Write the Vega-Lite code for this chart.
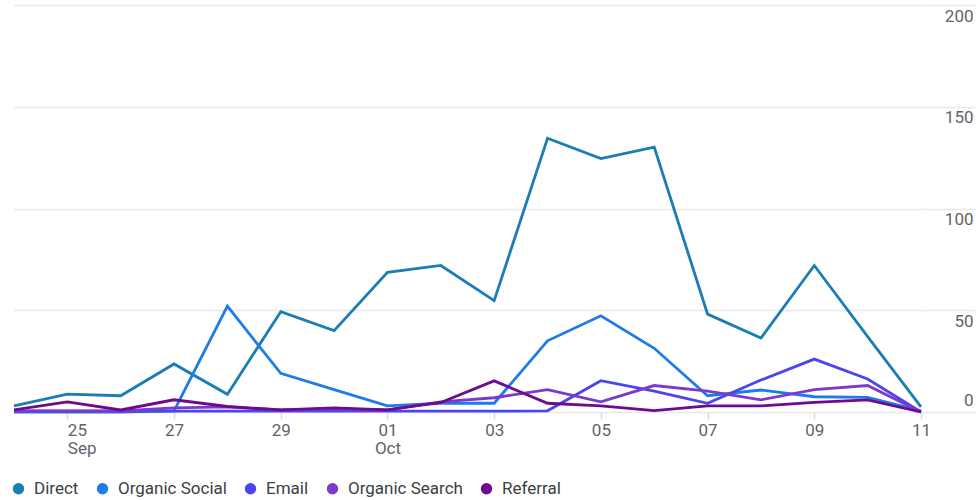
{
  "$schema": "https://vega.github.io/schema/vega-lite/v6.json",
  "width": 907,
  "height": 407,
  "autosize": {"type": "none"},
  "padding": {"left": 14, "top": 5, "right": 55, "bottom": 88},
  "config": {
    "view": {"stroke": null},
    "font": "Roboto",
    "axis": {"labelFont": "Roboto", "labelFontSize": 17, "labelColor": "#5f6368"},
    "legend": {"labelFont": "Roboto", "labelFontSize": 17, "labelColor": "#3c4043"}
  },
  "datasets": {
    "traffic": [
      {"date": "2023-09-24", "channel": "Direct", "users": 3},
      {"date": "2023-09-25", "channel": "Direct", "users": 8.8},
      {"date": "2023-09-26", "channel": "Direct", "users": 8},
      {"date": "2023-09-27", "channel": "Direct", "users": 23.6},
      {"date": "2023-09-28", "channel": "Direct", "users": 8.7},
      {"date": "2023-09-29", "channel": "Direct", "users": 49.3},
      {"date": "2023-09-30", "channel": "Direct", "users": 40},
      {"date": "2023-10-01", "channel": "Direct", "users": 68.6},
      {"date": "2023-10-02", "channel": "Direct", "users": 72},
      {"date": "2023-10-03", "channel": "Direct", "users": 54.7},
      {"date": "2023-10-04", "channel": "Direct", "users": 134.5},
      {"date": "2023-10-05", "channel": "Direct", "users": 124.5},
      {"date": "2023-10-06", "channel": "Direct", "users": 130.2},
      {"date": "2023-10-07", "channel": "Direct", "users": 48.1},
      {"date": "2023-10-08", "channel": "Direct", "users": 36.3},
      {"date": "2023-10-09", "channel": "Direct", "users": 72},
      {"date": "2023-10-10", "channel": "Direct", "users": 37},
      {"date": "2023-10-11", "channel": "Direct", "users": 2.5},

      {"date": "2023-09-24", "channel": "Organic Social", "users": 0},
      {"date": "2023-09-25", "channel": "Organic Social", "users": 0},
      {"date": "2023-09-26", "channel": "Organic Social", "users": 0},
      {"date": "2023-09-27", "channel": "Organic Social", "users": 0.5},
      {"date": "2023-09-28", "channel": "Organic Social", "users": 52},
      {"date": "2023-09-29", "channel": "Organic Social", "users": 19},
      {"date": "2023-09-30", "channel": "Organic Social", "users": 11},
      {"date": "2023-10-01", "channel": "Organic Social", "users": 3},
      {"date": "2023-10-02", "channel": "Organic Social", "users": 4.3},
      {"date": "2023-10-03", "channel": "Organic Social", "users": 4.3},
      {"date": "2023-10-04", "channel": "Organic Social", "users": 35},
      {"date": "2023-10-05", "channel": "Organic Social", "users": 47.3},
      {"date": "2023-10-06", "channel": "Organic Social", "users": 31.3},
      {"date": "2023-10-07", "channel": "Organic Social", "users": 8},
      {"date": "2023-10-08", "channel": "Organic Social", "users": 10.8},
      {"date": "2023-10-09", "channel": "Organic Social", "users": 7.5},
      {"date": "2023-10-10", "channel": "Organic Social", "users": 7.2},
      {"date": "2023-10-11", "channel": "Organic Social", "users": 0.6},

      {"date": "2023-09-24", "channel": "Email", "users": 0.4},
      {"date": "2023-09-25", "channel": "Email", "users": 0.4},
      {"date": "2023-09-26", "channel": "Email", "users": 0.4},
      {"date": "2023-09-27", "channel": "Email", "users": 0.4},
      {"date": "2023-09-28", "channel": "Email", "users": 0.4},
      {"date": "2023-09-29", "channel": "Email", "users": 0.4},
      {"date": "2023-09-30", "channel": "Email", "users": 0.4},
      {"date": "2023-10-01", "channel": "Email", "users": 0.4},
      {"date": "2023-10-02", "channel": "Email", "users": 0.4},
      {"date": "2023-10-03", "channel": "Email", "users": 0.4},
      {"date": "2023-10-04", "channel": "Email", "users": 0.6},
      {"date": "2023-10-05", "channel": "Email", "users": 15.4},
      {"date": "2023-10-06", "channel": "Email", "users": 10.3},
      {"date": "2023-10-07", "channel": "Email", "users": 4.3},
      {"date": "2023-10-08", "channel": "Email", "users": 15.7},
      {"date": "2023-10-09", "channel": "Email", "users": 26},
      {"date": "2023-10-10", "channel": "Email", "users": 16.2},
      {"date": "2023-10-11", "channel": "Email", "users": 0},

      {"date": "2023-09-24", "channel": "Organic Search", "users": 0.5},
      {"date": "2023-09-25", "channel": "Organic Search", "users": 0.5},
      {"date": "2023-09-26", "channel": "Organic Search", "users": 0.5},
      {"date": "2023-09-27", "channel": "Organic Search", "users": 2},
      {"date": "2023-09-28", "channel": "Organic Search", "users": 2.5},
      {"date": "2023-09-29", "channel": "Organic Search", "users": 1},
      {"date": "2023-09-30", "channel": "Organic Search", "users": 1.5},
      {"date": "2023-10-01", "channel": "Organic Search", "users": 1},
      {"date": "2023-10-02", "channel": "Organic Search", "users": 5},
      {"date": "2023-10-03", "channel": "Organic Search", "users": 7},
      {"date": "2023-10-04", "channel": "Organic Search", "users": 11},
      {"date": "2023-10-05", "channel": "Organic Search", "users": 5},
      {"date": "2023-10-06", "channel": "Organic Search", "users": 13},
      {"date": "2023-10-07", "channel": "Organic Search", "users": 10.3},
      {"date": "2023-10-08", "channel": "Organic Search", "users": 6},
      {"date": "2023-10-09", "channel": "Organic Search", "users": 11},
      {"date": "2023-10-10", "channel": "Organic Search", "users": 13},
      {"date": "2023-10-11", "channel": "Organic Search", "users": 0},

      {"date": "2023-09-24", "channel": "Referral", "users": 1},
      {"date": "2023-09-25", "channel": "Referral", "users": 5},
      {"date": "2023-09-26", "channel": "Referral", "users": 1},
      {"date": "2023-09-27", "channel": "Referral", "users": 6},
      {"date": "2023-09-28", "channel": "Referral", "users": 2.7},
      {"date": "2023-09-29", "channel": "Referral", "users": 1},
      {"date": "2023-09-30", "channel": "Referral", "users": 2},
      {"date": "2023-10-01", "channel": "Referral", "users": 1},
      {"date": "2023-10-02", "channel": "Referral", "users": 4.7},
      {"date": "2023-10-03", "channel": "Referral", "users": 15.3},
      {"date": "2023-10-04", "channel": "Referral", "users": 4.3},
      {"date": "2023-10-05", "channel": "Referral", "users": 3},
      {"date": "2023-10-06", "channel": "Referral", "users": 0.7},
      {"date": "2023-10-07", "channel": "Referral", "users": 3},
      {"date": "2023-10-08", "channel": "Referral", "users": 3},
      {"date": "2023-10-09", "channel": "Referral", "users": 4.7},
      {"date": "2023-10-10", "channel": "Referral", "users": 6},
      {"date": "2023-10-11", "channel": "Referral", "users": 0}
    ]
  },
  "data": {"name": "traffic"},
  "mark": {"type": "line", "strokeWidth": 2.8, "strokeJoin": "miter", "interpolate": "linear"},
  "encoding": {
    "x": {
      "field": "date",
      "type": "temporal",
      "scale": {"type": "utc", "domain": [{"year": 2023, "month": 9, "date": 24, "utc": true}, {"year": 2023, "month": 10, "date": 11, "utc": true}]},
      "axis": {
        "title": null,
        "grid": false,
        "domain": false,
        "ticks": true,
        "tickColor": "#dadce0",
        "tickSize": 7,
        "tickWidth": 1.5,
        "labelPadding": 3,
        "labelLineHeight": 18,
        "labelBaseline": "top",
        "labelAlign": {"condition": {"test": "datum.index == 0", "value": "left"}, "value": "center"},
        "values": [
          {"year": 2023, "month": 9, "date": 25, "utc": true},
          {"year": 2023, "month": 9, "date": 27, "utc": true},
          {"year": 2023, "month": 9, "date": 29, "utc": true},
          {"year": 2023, "month": 10, "date": 1, "utc": true},
          {"year": 2023, "month": 10, "date": 3, "utc": true},
          {"year": 2023, "month": 10, "date": 5, "utc": true},
          {"year": 2023, "month": 10, "date": 7, "utc": true},
          {"year": 2023, "month": 10, "date": 9, "utc": true},
          {"year": 2023, "month": 10, "date": 11, "utc": true}
        ],
        "labelExpr": "(datum.index == 0 || utcdate(datum.value) == 1) ? [utcFormat(datum.value, '%d'), utcFormat(datum.value, '%b')] : utcFormat(datum.value, '%d')"
      }
    },
    "y": {
      "field": "users",
      "type": "quantitative",
      "scale": {"domain": [0, 200], "nice": false},
      "axis": {
        "title": null,
        "orient": "right",
        "values": [0, 50, 100, 150, 200],
        "domain": false,
        "grid": true,
        "gridColor": "#e8e8e8",
        "gridWidth": 1.5,
        "ticks": true,
        "tickColor": "#e8e8e8",
        "tickWidth": 1.5,
        "tickSize": 54,
        "labelPadding": -2,
        "labelAlign": "right",
        "labelBaseline": {"condition": {"test": "datum.value == 0", "value": "bottom"}, "value": "top"},
        "labelOffset": {"condition": {"test": "datum.value == 0", "value": -3}, "value": 3}
      }
    },
    "color": {
      "field": "channel",
      "type": "nominal",
      "sort": ["Direct", "Organic Social", "Email", "Organic Search", "Referral"],
      "scale": {
        "domain": ["Direct", "Organic Social", "Email", "Organic Search", "Referral"],
        "range": ["#1a7db3", "#1f7be8", "#4a45ef", "#7b3acd", "#6e0a8e"]
      },
      "legend": {
        "title": null,
        "orient": "none",
        "legendX": -4,
        "legendY": 475,
        "direction": "horizontal",
        "symbolType": "circle",
        "symbolSize": 130,
        "symbolOpacity": 1,
        "labelOffset": 7,
        "columnPadding": 15,
        "labelLimit": 300,
        "padding": 0,
        "encode": {
          "symbols": {
            "update": {
              "fill": {"scale": "color", "field": "value"},
              "fillOpacity": {"value": 1},
              "strokeWidth": {"value": 0},
              "size": {"value": 130}
            }
          }
        }
      }
    }
  }
}
